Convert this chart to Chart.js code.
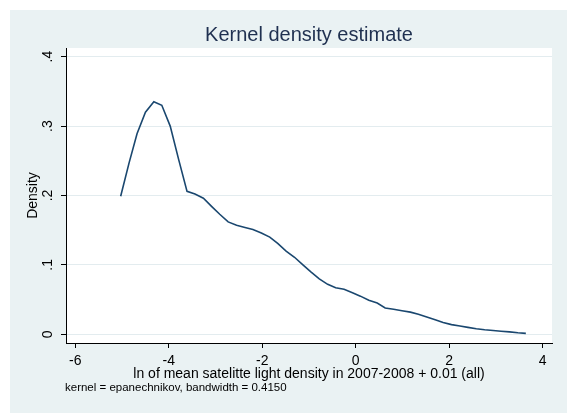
<!DOCTYPE html>
<html lang="en">
  <head>
    <meta charset="UTF-8" />
    <title>Kernel density estimate</title>
    <script src="https://cdn.jsdelivr.net/npm/chart.js"></script>
    <style>
      body {
        margin: 0;
        background: #ffffff;
      }
      .chart-container {
        width: 567px;
        height: 413px;
      }
    </style>
  </head>
  <body>
    <div class="chart-container">
      <canvas id="kdensity"></canvas>
    </div>

    <script>
      // evaluation points of the density (x) and estimated density (y)
      const gridX = [
        -5.03, -4.85, -4.68, -4.5, -4.32, -4.15, -3.97, -3.79, -3.61, -3.44,
        -3.26, -3.08, -2.91, -2.73, -2.55, -2.37, -2.2, -2.02, -1.84, -1.67,
        -1.49, -1.31, -1.13, -0.96, -0.78, -0.6, -0.43, -0.25, -0.07, 0.1,
        0.28, 0.46, 0.63, 0.81, 0.99, 1.17, 1.34, 1.52, 1.7, 1.87,
        2.05, 2.23, 2.4, 2.58, 2.76, 2.94, 3.11, 3.29, 3.47, 3.64,
      ];
      const density = [
        0.199, 0.247, 0.289, 0.32, 0.335, 0.33, 0.3, 0.252, 0.206, 0.202,
        0.196, 0.184, 0.173, 0.162, 0.157, 0.154, 0.151, 0.146, 0.14, 0.131,
        0.12, 0.111, 0.1, 0.09, 0.08, 0.072, 0.067, 0.065, 0.06, 0.055,
        0.049, 0.045, 0.038, 0.036, 0.034, 0.032, 0.029, 0.025, 0.021, 0.017,
        0.014, 0.012, 0.01, 0.008, 0.0066, 0.0055, 0.0045, 0.0035, 0.0022, 0.0014,
      ];
      const xTicks = [-6, -4, -2, 0, 2, 4];
      const yTicks = [0, 0.1, 0.2, 0.3, 0.4];
      const yTickLabels = ["0", ".1", ".2", ".3", ".4"];

      const FONT = "'Liberation Sans', Arial, sans-serif";
      const BG = "#eaf2f3";

      // Stata-like graph region + white plot region
      const background = {
        id: "background",
        beforeDraw(chart) {
          const { ctx, chartArea: a } = chart;
          ctx.save();
          ctx.fillStyle = "#ffffff";
          ctx.fillRect(0, 0, chart.width, chart.height);
          ctx.fillStyle = BG;
          ctx.fillRect(10, 10, chart.width - 10, chart.height - 10);
          ctx.fillStyle = "#ffffff";
          ctx.fillRect(a.left, a.top, a.right - a.left, a.bottom - a.top);
          ctx.restore();
        },
      };

      // vertical y tick labels and the footnote
      const extras = {
        id: "extras",
        afterDraw(chart) {
          const { ctx } = chart;
          const y = chart.scales.y;
          ctx.save();
          ctx.fillStyle = "#000000";
          ctx.font = "14px " + FONT;
          ctx.textAlign = "center";
          ctx.textBaseline = "middle";
          yTicks.forEach((v, i) => {
            ctx.save();
            ctx.translate(48, y.getPixelForValue(v));
            ctx.rotate(-Math.PI / 2);
            ctx.fillText(yTickLabels[i], 0, 0);
            ctx.restore();
          });
          ctx.font = "11.5px " + FONT;
          ctx.textAlign = "left";
          ctx.fillText("kernel = epanechnikov, bandwidth = 0.4150", 65, 388);
          ctx.restore();
        },
      };

      const ctx = document.getElementById("kdensity").getContext("2d");

      new Chart(ctx, {
        type: "line",
        data: {
          datasets: [
            {
              data: gridX.map((x, i) => ({ x: x, y: density[i] })),
              borderColor: "#1a476f",
              borderWidth: 1.6,
              pointRadius: 0,
              tension: 0,
              fill: false,
            },
          ],
        },
        options: {
          responsive: true,
          maintainAspectRatio: false,
          animation: false,
          layout: { padding: { top: 0, left: 12, right: 15, bottom: 0 } },
          plugins: {
            legend: { display: false },
            tooltip: { enabled: false },
            title: {
              display: true,
              text: "Kernel density estimate",
              fullSize: false,
              color: "#1f3050",
              font: { family: FONT, size: 20, weight: "normal" },
              padding: { top: 23, bottom: 1 },
            },
          },
          scales: {
            x: {
              type: "linear",
              min: -6.2,
              max: 4.2,
              afterBuildTicks: (s) => {
                s.ticks = xTicks.map((v) => ({ value: v }));
              },
              afterFit: (s) => {
                s.height = 70;
              },
              border: { display: true, color: "#000000", width: 1 },
              grid: {
                drawOnChartArea: false,
                drawTicks: true,
                tickLength: 5,
                tickColor: "#000000",
              },
              ticks: {
                color: "#000000",
                padding: 5,
                maxRotation: 0,
                font: { family: FONT, size: 14 },
                callback: (v) => String(v),
              },
              title: {
                display: true,
                text: "ln of mean satelitte light density in 2007-2008 + 0.01 (all)",
                color: "#000000",
                font: { family: FONT, size: 14 },
                padding: { top: 0, bottom: 30.5 },
              },
            },
            y: {
              type: "linear",
              min: -0.0125,
              max: 0.4125,
              afterBuildTicks: (s) => {
                s.ticks = yTicks.map((v) => ({ value: v }));
              },
              afterFit: (s) => {
                s.width = 54;
              },
              border: { display: true, color: "#000000", width: 1 },
              grid: {
                color: "#e3ecef",
                lineWidth: 1,
                drawTicks: true,
                tickLength: 5,
                tickColor: "#000000",
              },
              ticks: {
                color: "rgba(0,0,0,0)",
                font: { family: FONT, size: 13 },
              },
              title: {
                display: true,
                text: "Density",
                color: "#000000",
                font: { family: FONT, size: 14 },
                padding: { top: 12.5, bottom: 0 },
              },
            },
          },
        },
        plugins: [background, extras],
      });
    </script>
  </body>
</html>
